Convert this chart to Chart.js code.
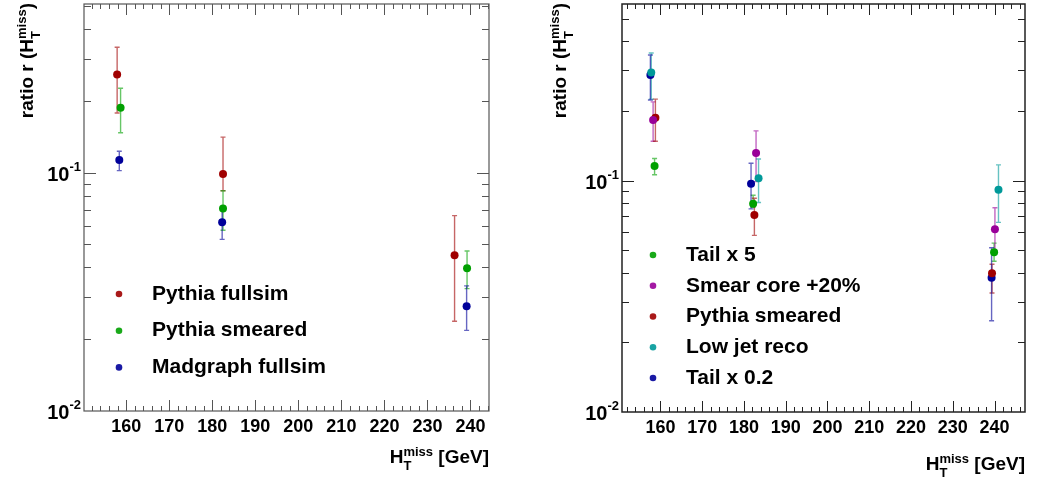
<!DOCTYPE html>
<html>
<head>
<meta charset="utf-8">
<title>ratio r (HT miss)</title>
<script src="https://cdn.jsdelivr.net/npm/chart.js"></script>
<style>
  body { margin: 0; background: #fff; }
  #wrap { position: relative; width: 1037px; height: 479px; }
  canvas { position: absolute; top: 0; }
</style>
</head>
<body>
<div id="wrap">
  <canvas id="left" width="518" height="479" style="left:0"></canvas>
  <canvas id="right" width="519" height="479" style="left:518px"></canvas>
</div>
<script>
// ---- left panel: generator comparison ----
const leftNames  = ['Pythia fullsim', 'Pythia smeared', 'Madgraph fullsim'];
const leftColors = ['#a00000', '#00a000', '#00009a'];
const leftX  = [[157.9, 182.5, 236.3], [158.7, 182.5, 239.2], [158.4, 182.3, 239.1]];
const leftY  = [[0.258, 0.0987, 0.045], [0.187, 0.0708, 0.0397], [0.113, 0.0619, 0.0275]];
const leftLo = [[0.178, 0.084, 0.0238], [0.147, 0.0573, 0.0326], [0.102, 0.0525, 0.0218]];
const leftHi = [[0.336, 0.141, 0.066], [0.226, 0.084, 0.0469], [0.123, 0.071, 0.0335]];

// ---- right panel: systematic variations ----
const rightNames  = ['Tail x 5', 'Smear core +20%', 'Pythia smeared', 'Low jet reco', 'Tail x 0.2'];
const rightColors = ['#00a000', '#990099', '#a00000', '#009999', '#00009a'];
const rightX  = [[158.6, 182.2, 239.9], [158.25, 182.9, 240.1], [158.8, 182.5, 239.4], [157.8, 183.5, 240.95], [157.6, 181.7, 239.3]];
const rightY  = [[0.1157, 0.0795, 0.049], [0.183, 0.1317, 0.0617], [0.187, 0.071, 0.0398], [0.293, 0.1023, 0.0914], [0.286, 0.097, 0.038]];
const rightLo = [[0.106, 0.0767, 0.0448], [0.148, 0.099, 0.0499], [0.148, 0.058, 0.0327], [0.225, 0.0804, 0.066], [0.223, 0.0755, 0.0248]];
const rightHi = [[0.1247, 0.0864, 0.0537], [0.219, 0.164, 0.0764], [0.225, 0.0839, 0.0435], [0.356, 0.124, 0.117], [0.349, 0.1188, 0.0513]];

// axis ticks
const xMajor = [160, 170, 180, 190, 200, 210, 220, 230, 240];
const yDecades = [0.01, 0.1];

const FONT = '"Liberation Sans", Arial, Helvetica, sans-serif';
const big = px => `bold ${px}px ${FONT}`;

function hexA(hex, a) {
  const n = parseInt(hex.slice(1), 16);
  return `rgba(${n >> 16},${(n >> 8) & 255},${n & 255},${a})`;
}

// H with stacked "miss" superscript and "T" subscript; returns its width
function htMiss(ctx, x, y, size, small, measureOnly) {
  ctx.font = big(size);
  const wH = ctx.measureText('H').width;
  ctx.font = big(small);
  const wSup = ctx.measureText('miss').width;
  if (!measureOnly) {
    ctx.font = big(size);
    ctx.fillText('H', x, y);
    ctx.font = big(small);
    ctx.fillText('miss', x + wH, y - size * 0.38);
    ctx.fillText('T', x + wH, y + size * 0.38);
  }
  return wH + wSup;
}

function drawErrorBars(chart, lo, hi) {
  const { ctx } = chart;
  const x = chart.scales.x, y = chart.scales.y;
  ctx.save();
  ctx.lineWidth = 1.4;
  chart.data.datasets.forEach((ds, i) => {
    ctx.strokeStyle = hexA(ds.backgroundColor, 0.6);
    ds.data.forEach((p, j) => {
      const px = x.getPixelForValue(p.x);
      const y1 = y.getPixelForValue(lo[i][j]);
      const y2 = y.getPixelForValue(hi[i][j]);
      ctx.beginPath();
      ctx.moveTo(px, y1); ctx.lineTo(px, y2);
      ctx.moveTo(px - 2.5, y1); ctx.lineTo(px + 2.5, y1);
      ctx.moveTo(px - 2.5, y2); ctx.lineTo(px + 2.5, y2);
      ctx.stroke();
    });
  });
  ctx.restore();
}

function drawFrame(chart, o) {
  const { ctx, chartArea: a } = chart;
  const x = chart.scales.x, y = chart.scales.y;
  ctx.save();
  ctx.strokeStyle = o.frameColor;
  ctx.lineWidth = o.frameWidth;
  ctx.strokeRect(a.left, a.top, a.right - a.left, a.bottom - a.top);

  ctx.lineWidth = 1;
  ctx.beginPath();
  // x ticks, minor every 2 GeV
  for (let v = Math.ceil(x.min / 2) * 2; v <= x.max; v += 2) {
    const px = Math.round(x.getPixelForValue(v)) + 0.5;
    const len = xMajor.includes(v) ? 11 : 5;
    ctx.moveTo(px, a.bottom); ctx.lineTo(px, a.bottom - len);
    ctx.moveTo(px, a.top); ctx.lineTo(px, a.top + len);
  }
  // y ticks on a log scale
  yDecades.forEach(d => {
    for (let k = 1; k <= 9; k++) {
      const v = d * k;
      if (v <= y.min || v >= y.max) continue;
      const py = Math.round(y.getPixelForValue(v)) + 0.5;
      const len = k === 1 ? 12 : 7;
      ctx.moveTo(a.left, py); ctx.lineTo(a.left + len, py);
      ctx.moveTo(a.right, py); ctx.lineTo(a.right - len, py);
    }
  });
  ctx.stroke();

  // tick labels
  ctx.fillStyle = '#000';
  ctx.font = big(18);
  ctx.textAlign = 'center';
  ctx.textBaseline = 'alphabetic';
  xMajor.forEach(v => ctx.fillText(String(v), x.getPixelForValue(v), a.bottom + 21));

  yDecades.forEach(d => {
    const py = y.getPixelForValue(d);
    const exp = String(Math.round(Math.log10(d)));
    ctx.font = big(13);
    const we = ctx.measureText(exp).width;
    ctx.textAlign = 'right';
    ctx.fillText(exp, a.left - 3, py - 2);
    ctx.font = big(20);
    ctx.fillText('10', a.left - 3 - we, py + 8);
  });

  // x axis title, right aligned
  ctx.textAlign = 'left';
  const wHT = htMiss(ctx, 0, 0, 19, 13, true);
  ctx.font = big(19);
  const wRest = ctx.measureText(' [GeV]').width;
  const tx = a.right - wHT - wRest;
  htMiss(ctx, tx, o.xTitleY, 19, 13);
  ctx.font = big(19);
  ctx.fillText(' [GeV]', tx + wHT, o.xTitleY);

  // y axis title, rotated, ending near the top
  ctx.save();
  ctx.translate(o.yTitleX, 3);
  ctx.rotate(-Math.PI / 2);
  ctx.font = big(19);
  const wA = ctx.measureText('ratio r (').width;
  const wC = ctx.measureText(')').width;
  const wB = htMiss(ctx, 0, 0, 19, 13, true);
  let cx = -(wA + wB + wC);
  ctx.font = big(19);
  ctx.fillText('ratio r (', cx, 0);
  cx += wA;
  htMiss(ctx, cx, 0, 19, 13);
  cx += wB;
  ctx.font = big(19);
  ctx.fillText(')', cx, 0);
  ctx.restore();

  // legend
  ctx.textBaseline = 'middle';
  chart.data.datasets.forEach((ds, i) => {
    const ly = o.legendY + i * o.legendStep;
    ctx.fillStyle = hexA(ds.backgroundColor, 0.9);
    ctx.beginPath();
    ctx.arc(o.legendMarkX, ly, 3.3, 0, Math.PI * 2);
    ctx.fill();
    ctx.fillStyle = '#000';
    ctx.font = big(21);
    ctx.fillText(ds.label, o.legendTextX, ly);
  });
  ctx.restore();
}

const rootStyle = {
  id: 'rootStyle',
  beforeDatasetsDraw(chart, args, o) { drawErrorBars(chart, o.lo, o.hi); },
  afterDraw(chart, args, o) { drawFrame(chart, o); }
};

function makePanel(id, names, colors, xs, ys, lo, hi, xr, yr, pad, style) {
  const datasets = names.map((n, i) => ({
    label: n,
    data: xs[i].map((v, j) => ({ x: v, y: ys[i][j] })),
    backgroundColor: colors[i],
    borderWidth: 0,
    pointRadius: 4,
    pointHoverRadius: 4,
    showLine: false
  }));
  new Chart(document.getElementById(id), {
    type: 'scatter',
    data: { datasets },
    plugins: [rootStyle],
    options: {
      responsive: false,
      animation: false,
      layout: { padding: pad },
      plugins: {
        legend: { display: false },
        tooltip: { enabled: false },
        rootStyle: Object.assign({ lo, hi }, style)
      },
      scales: {
        x: { type: 'linear', min: xr[0], max: xr[1], display: false },
        y: { type: 'logarithmic', min: yr[0], max: yr[1], display: false }
      }
    }
  });
}

makePanel('left', leftNames, leftColors, leftX, leftY, leftLo, leftHi,
  [150.2, 244.3], [0.01, 0.51],
  { left: 84, top: 4, right: 29, bottom: 68 },
  { frameColor: '#555', frameWidth: 1.2, xTitleY: 463, yTitleX: 33,
    legendMarkX: 119, legendTextX: 152, legendY: 294, legendStep: 36.7 });

makePanel('right', rightNames, rightColors, rightX, rightY, rightLo, rightHi,
  [150.8, 247.3], [0.01, 0.58],
  { left: 104, top: 3, right: 12, bottom: 67 },
  { frameColor: '#222', frameWidth: 1.5, xTitleY: 470, yTitleX: 48,
    legendMarkX: 135, legendTextX: 168, legendY: 255, legendStep: 30.75 });
</script>
</body>
</html>
